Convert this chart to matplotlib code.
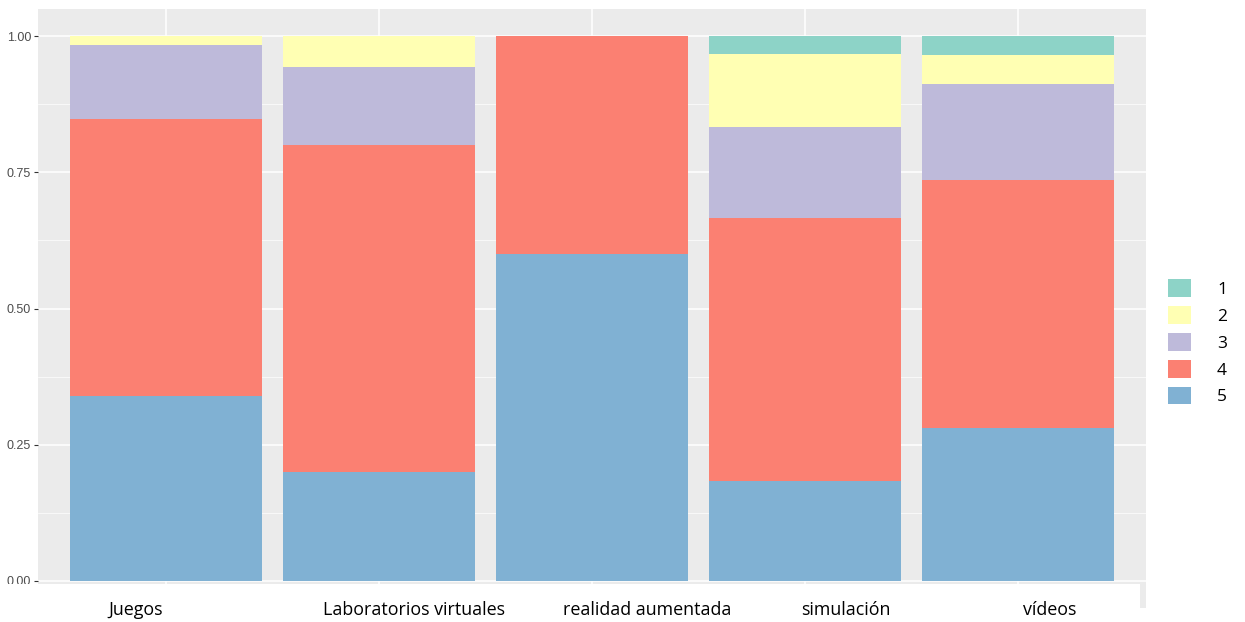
import matplotlib
matplotlib.use("Agg")
import matplotlib.pyplot as plt
import numpy as np

# ---- data ----
categories = ["Juegos", "Laboratorios virtuales", "realidad aumentada", "simulación", "vídeos"]
levels = ["1", "2", "3", "4", "5"]
# counts per response level (1..5) for each category
counts_1 = [0, 0, 0, 2, 2]
counts_2 = [1, 2, 0, 8, 3]
counts_3 = [8, 5, 0, 10, 10]
counts_4 = [30, 21, 2, 29, 26]
counts_5 = [20, 7, 3, 11, 16]
colors = ["#8DD3C7", "#FFFFB3", "#BEBADA", "#FB8072", "#80B1D3"]
yticks = [0.0, 0.25, 0.5, 0.75, 1.0]
ytick_labels = ["0.00", "0.25", "0.50", "0.75", "1.00"]
# label centres in pixels (pasted labels in the reference)
label_x_px = [136, 414, 647, 846, 1050]

W, H = 1245, 622
fig = plt.figure(figsize=(W / 100, H / 100), dpi=100)
ax = fig.add_axes([38 / W, 1 - 608 / H, (1146 - 38) / W, (608 - 9) / H])
ax.set_facecolor("#EBEBEB")

allc = np.array([counts_1, counts_2, counts_3, counts_4, counts_5], dtype=float)
props = allc / allc.sum(axis=0)
x = np.arange(1, len(categories) + 1)

handles = {}
bottom = np.zeros(len(categories))
for i in range(4, -1, -1):  # level 5 at the bottom
    b = ax.bar(x, props[i], bottom=bottom, width=0.9, color=colors[i],
               edgecolor="none", zorder=2, label=levels[i])
    handles[levels[i]] = b
    bottom += props[i]

ax.set_xlim(0.4, 5.6)
ax.set_ylim(-0.05, 1.05)
for s in ax.spines.values():
    s.set_visible(False)

ax.set_yticks(yticks)
ax.set_yticklabels(ytick_labels, fontsize=9, color="#4D4D4D", family="Liberation Sans")
ax.set_yticks([0.125, 0.375, 0.625, 0.875], minor=True)
ax.tick_params(axis="y", which="major", length=3, width=0.8, color="#333333", pad=2)
ax.tick_params(axis="y", which="minor", length=0)
ax.set_xticks(x)
ax.set_xticklabels([])
ax.tick_params(axis="x", length=0)
ax.grid(True, which="major", color="white", linewidth=1.1, zorder=0)
ax.grid(True, which="minor", axis="y", color="white", linewidth=0.5, zorder=0)
ax.set_axisbelow(True)

# white strip where the category labels were pasted
fig.patches.append(plt.Rectangle((0, 0), 1140 / W, 1 - 584 / H, transform=fig.transFigure,
                                 facecolor="white", edgecolor="none", zorder=5))
for cat, px in zip(categories, label_x_px):
    fig.text(px / W, 1 - 610 / H, cat, ha="center", va="center", fontsize=12.9,
             family="Open Sans", color="black", zorder=6)

leg = fig.legend([handles[l] for l in levels], levels, loc="upper left",
                 bbox_to_anchor=(1168 / W, 1 - 279 / H), frameon=False,
                 prop={"family": "Open Sans", "size": 12.5}, handlelength=1.32,
                 handleheight=1.2, labelspacing=0.47, handletextpad=1.5,
                 borderpad=0, borderaxespad=0)

fig.savefig("out.png", dpi=100)
